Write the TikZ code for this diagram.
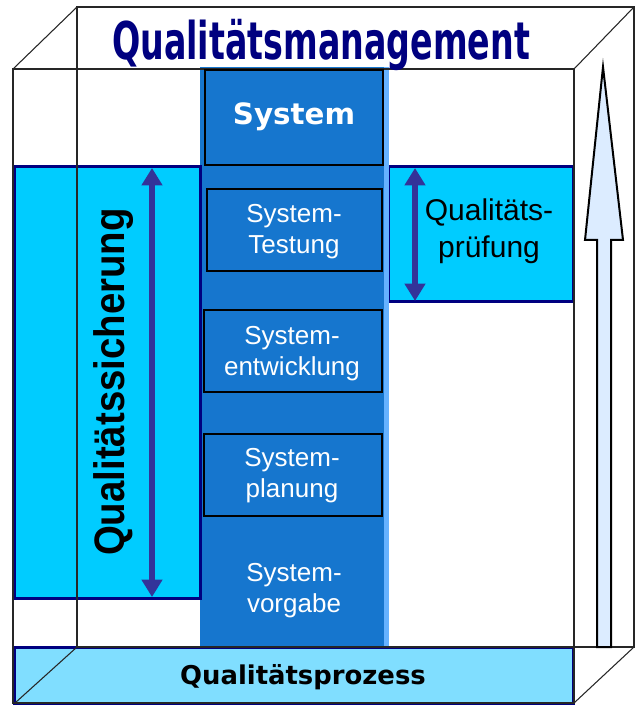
\documentclass[tikz,border=0pt]{standalone}
\usepackage{fontspec}
\setmainfont{Liberation Sans}
\newfontfamily\titlefont{DejaVu Sans}[FakeStretch=0.64]
\newfontfamily\verdfont{DejaVu Sans}
\newfontfamily\sicherfont{Liberation Sans}[FakeStretch=0.9]
\usetikzlibrary{arrows.meta}
\definecolor{navy}{RGB}{0,0,128}
\definecolor{qcyan}{RGB}{0,204,255}
\definecolor{qbar}{RGB}{128,222,255}
\definecolor{colblue}{RGB}{22,118,206}
\definecolor{colstripe}{RGB}{102,178,255}
\definecolor{arrowblue}{RGB}{51,51,153}
\definecolor{bigarrow}{RGB}{220,236,255}

\begin{document}
\begin{tikzpicture}[x=0.75pt,y=-0.75pt,
    edge/.style={draw=black!85,line width=0.8pt},
    qbox/.style={fill=qcyan,draw=navy,line width=2.25pt},
    sysbox/.style={draw=black,line width=1pt},
    syslabel/.style={text=white,align=center,font=\fontsize{19.5}{23.25}\selectfont},
    dblarrow/.style={draw=arrowblue,line width=4.5pt,
      {Triangle[width=15pt,length=13pt]}-{Triangle[width=15pt,length=13pt]}}]
  \useasboundingbox (0,0) rectangle (640,705);

  % Qualitaetspruefung box (behind the column)
  \draw[qbox] (388,167) rectangle (573,302);

  % Middle column
  \fill[colblue] (200,67) rectangle (388,648);
  \fill[colstripe] (384,67) rectangle (389,648);

  % Qualitaetssicherung box
  \draw[qbox] (14,167) rectangle (200,598);

  % Qualitaetsprozess bar
  \draw[qbox,fill=qbar] (14,647) rectangle (573,703);

  % Edges of the box
  \draw[edge] (13,69) rectangle (574,703);
  \draw[edge] (77,7) rectangle (634,647);
  \draw[edge] (13,69) -- (77,7);
  \draw[edge] (574,69) -- (634,7);
  \draw[edge] (15,703) -- (77,647);
  \draw[edge] (574,703) -- (634,647);

  % Boxes in the column
  \draw[sysbox] (205,70) rectangle (383,165);
  \draw[sysbox] (207,189) rectangle (382,271);
  \draw[sysbox] (204,310) rectangle (382,392);
  \draw[sysbox] (204,434) rectangle (382,516);

  % Big arrow on the right
  \draw[fill=bigarrow,line width=1.5pt,line join=miter]
    (603,67) -- (623,240) -- (611,240) -- (611,647)
    -- (597,647) -- (597,240) -- (585,240) -- cycle;

  % Texts
  \node[font=\titlefont\bfseries\fontsize{39}{40}\selectfont,text=navy,anchor=base]
    (title) at (321,60) {Qualitätsmanagement};
  \node[font=\verdfont\bfseries\fontsize{22}{26}\selectfont,text=white,anchor=base]
    (system) at (294,125) {System};
  \node[syslabel] (testung) at (294,232) {System-\\Testung};
  \node[syslabel] (entwicklung) at (292,354) {System-\\entwicklung};
  \node[syslabel] (planung) at (292,476) {System-\\planung};
  \node[syslabel] (vorgabe) at (294,591) {System-\\vorgabe};
  \node[font=\sicherfont\bfseries\fontsize{32}{36}\selectfont,rotate=90]
    (sicherung) at (114,382) {Qualitätssicherung};
  \node[align=center,font=\fontsize{22.5}{27.75}\selectfont]
    (pruefung) at (489,231) {Qualitäts-\\prüfung};
  \node[font=\verdfont\bfseries\fontsize{19.4}{22}\selectfont,anchor=base]
    (prozess) at (303,684) {Qualitätsprozess};

  % Double arrows
  \coordinate (qs top) at (152,168);
  \coordinate (qs bot) at (152,597);
  \coordinate (qp top) at (415,168);
  \coordinate (qp bot) at (415,301);
  \draw[dblarrow] (qs top) -- (qs bot);
  \draw[dblarrow] (qp top) -- (qp bot);
\end{tikzpicture}
\end{document}
